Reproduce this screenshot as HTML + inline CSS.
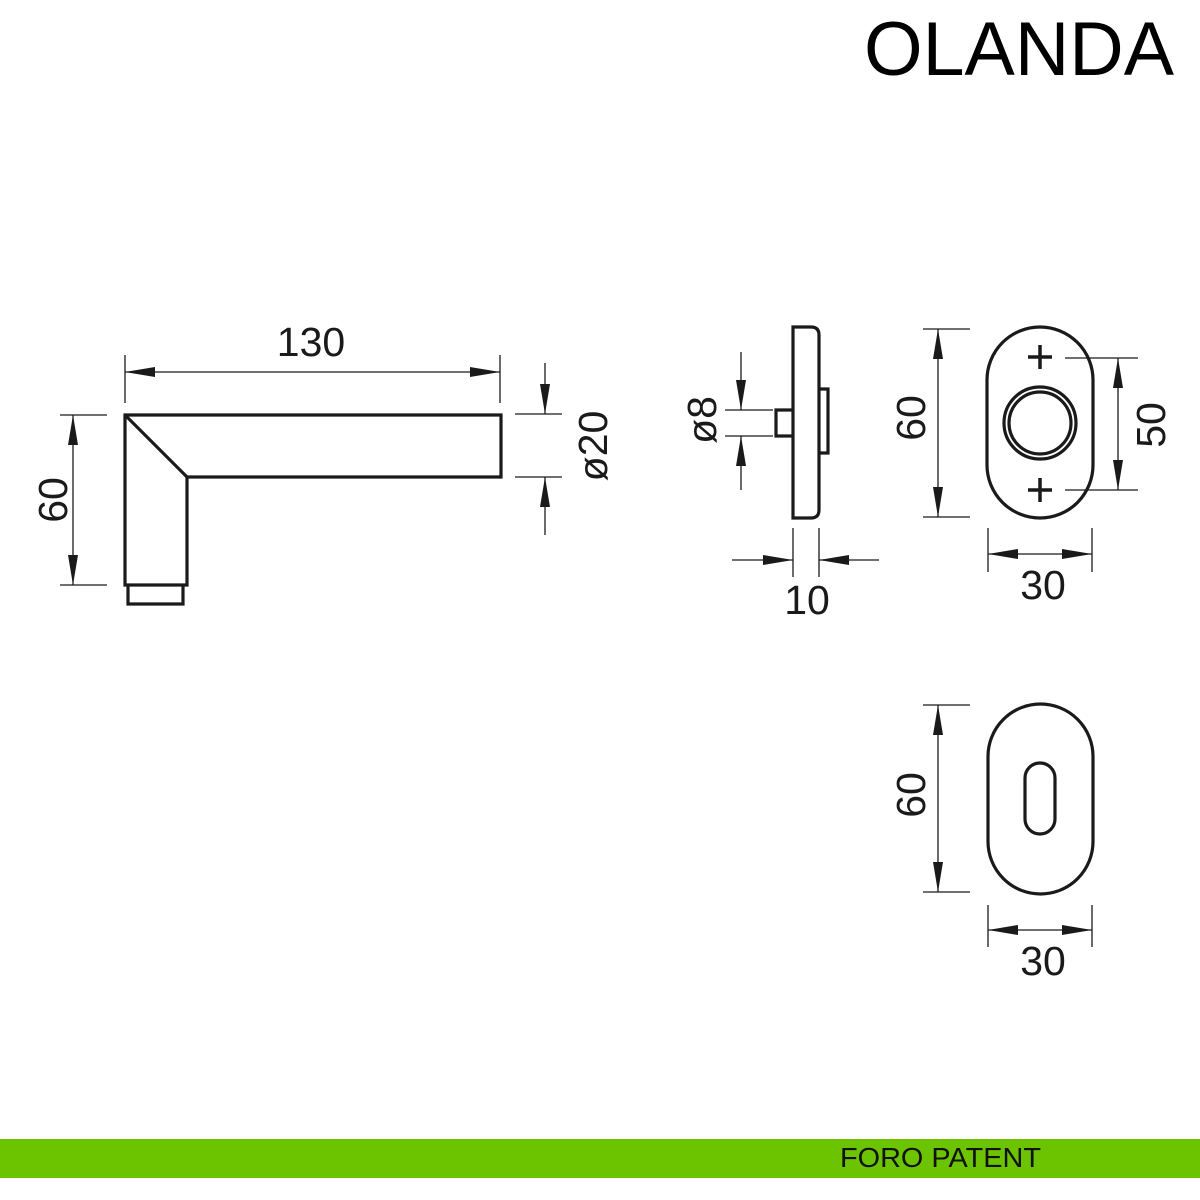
<!DOCTYPE html>
<html><head><meta charset="utf-8"><style>html,body{margin:0;padding:0;background:#fff}svg{display:block}</style></head>
<body>
<svg width="1200" height="1200" viewBox="0 0 1200 1200" xmlns="http://www.w3.org/2000/svg" font-family="Liberation Sans, sans-serif">
<defs>
<marker id="a" viewBox="0 0 30 10" refX="30" refY="5" markerWidth="30" markerHeight="10" markerUnits="userSpaceOnUse" orient="auto-start-reverse"><path d="M0,0 L30,5 L0,10 Z" fill="#1a1a1a"/></marker>
</defs>
<rect width="1200" height="1200" fill="#fff"/>
<text x="1174" y="75" font-size="76" text-anchor="end" textLength="310" lengthAdjust="spacingAndGlyphs" fill="#000">OLANDA</text>

<g fill="none" stroke="#1a1a1a" stroke-width="1.3">
<line x1="125" y1="355" x2="125" y2="403"/><line x1="500" y1="355" x2="500" y2="403"/>
<line x1="125" y1="372" x2="500" y2="372" marker-start="url(#a)" marker-end="url(#a)"/>
<line x1="515" y1="414" x2="562" y2="414"/><line x1="515" y1="477" x2="562" y2="477"/>
<line x1="545" y1="363" x2="545" y2="414" marker-end="url(#a)"/>
<line x1="545" y1="535" x2="545" y2="477" marker-end="url(#a)"/>
<line x1="60" y1="415" x2="107" y2="415"/><line x1="60" y1="585" x2="107" y2="585"/>
<line x1="73" y1="415" x2="73" y2="585" marker-start="url(#a)" marker-end="url(#a)"/>
<line x1="725" y1="410" x2="773" y2="410"/><line x1="725" y1="436" x2="773" y2="436"/>
<line x1="741" y1="352" x2="741" y2="410" marker-end="url(#a)"/>
<line x1="741" y1="490" x2="741" y2="436" marker-end="url(#a)"/>
<line x1="793" y1="528" x2="793" y2="577"/><line x1="819" y1="528" x2="819" y2="577"/>
<line x1="732" y1="560" x2="793" y2="560" marker-end="url(#a)"/>
<line x1="879" y1="560" x2="819" y2="560" marker-end="url(#a)"/>
<line x1="923" y1="329" x2="970" y2="329"/><line x1="923" y1="517" x2="970" y2="517"/>
<line x1="938" y1="329" x2="938" y2="517" marker-start="url(#a)" marker-end="url(#a)"/>
<line x1="1065" y1="358" x2="1138" y2="358"/><line x1="1065" y1="490" x2="1138" y2="490"/>
<line x1="1118" y1="358" x2="1118" y2="490" marker-start="url(#a)" marker-end="url(#a)"/>
<line x1="988" y1="528" x2="988" y2="572"/><line x1="1092" y1="528" x2="1092" y2="572"/>
<line x1="988" y1="554" x2="1092" y2="554" marker-start="url(#a)" marker-end="url(#a)"/>
<line x1="923" y1="705" x2="970" y2="705"/><line x1="923" y1="892" x2="970" y2="892"/>
<line x1="938" y1="705" x2="938" y2="892" marker-start="url(#a)" marker-end="url(#a)"/>
<line x1="988" y1="905" x2="988" y2="947"/><line x1="1092" y1="905" x2="1092" y2="947"/>
<line x1="988" y1="930" x2="1092" y2="930" marker-start="url(#a)" marker-end="url(#a)"/>
</g>

<g fill="none" stroke="#1a1a1a" stroke-width="3.2" stroke-linejoin="miter">
<path d="M125,415 H501 V477 H187 V585 H125 Z"/>
<line x1="125" y1="415" x2="187" y2="477"/>
<path d="M128,585 V604 H183 V585"/>
<path d="M793,327 H811 Q819,327 819,335 V510 Q819,518 811,518 H793 Z"/>
<path d="M819,389 H828 V453 H819"/>
<path d="M793,410 H776 V436 H793"/>
<rect x="987" y="327" width="106" height="191" rx="53" ry="53"/>
<circle cx="1040" cy="423" r="36"/>
<circle cx="1040" cy="423" r="31"/>
<rect x="988" y="704" width="105" height="190" rx="52.5" ry="52.5"/>
<rect x="1025" y="763" width="30" height="71" rx="15" ry="15"/>
</g>
<g stroke="#1a1a1a" stroke-width="3.5">
<line x1="1028" y1="357" x2="1052" y2="357"/><line x1="1040" y1="345" x2="1040" y2="369"/>
<line x1="1028" y1="490" x2="1052" y2="490"/><line x1="1040" y1="478" x2="1040" y2="502"/>
</g>

<g fill="#1a1a1a" font-size="41">
<text x="311" y="356" text-anchor="middle">130</text>
<text transform="translate(607,446) rotate(-90)" text-anchor="middle">ø20</text>
<text transform="translate(67,500) rotate(-90)" text-anchor="middle">60</text>
<text transform="translate(716,420) rotate(-90)" text-anchor="middle">ø8</text>
<text x="807" y="614" text-anchor="middle">10</text>
<text transform="translate(925,418) rotate(-90)" text-anchor="middle">60</text>
<text transform="translate(1165,425) rotate(-90)" text-anchor="middle">50</text>
<text x="1043" y="599" text-anchor="middle">30</text>
<text transform="translate(925,795) rotate(-90)" text-anchor="middle">60</text>
<text x="1043" y="975" text-anchor="middle">30</text>
</g>

<rect x="0" y="1139" width="1200" height="39" fill="#6cc300"/>
<text x="840" y="1167" font-size="28" fill="#111" textLength="201" lengthAdjust="spacingAndGlyphs">FORO PATENT</text>
</svg>
</body></html>
